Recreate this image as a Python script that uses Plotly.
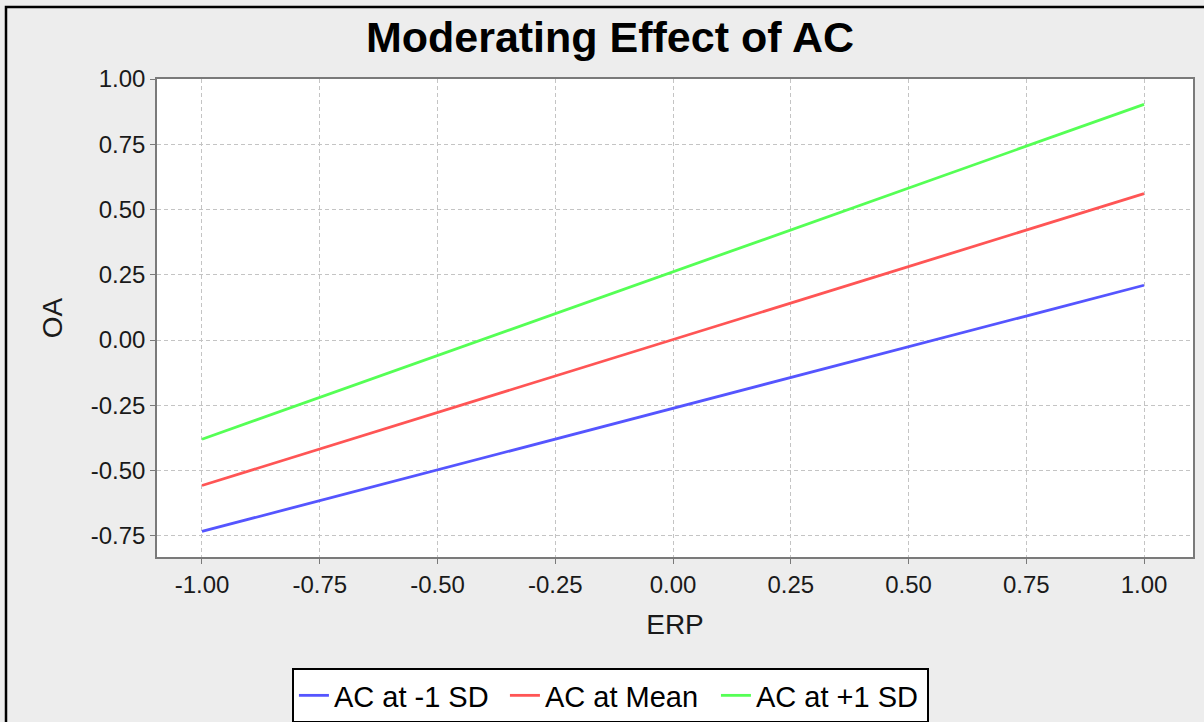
import plotly.graph_objects as go

erp = [-1.0, 1.0]
series_names = ["AC at -1 SD", "AC at Mean", "AC at +1 SD"]
oa_low = [-0.733, 0.210]
oa_mean = [-0.557, 0.561]
oa_high = [-0.380, 0.903]
colors = ["#5555FF", "#FF5555", "#55FF55"]
tick_vals = [-1.0, -0.75, -0.5, -0.25, 0.0, 0.25, 0.5, 0.75, 1.0]
tick_text = ["-1.00", "-0.75", "-0.50", "-0.25", "0.00", "0.25", "0.50", "0.75", "1.00"]

fig = go.Figure()
for name, ys, c in zip(series_names, [oa_low, oa_mean, oa_high], colors):
    fig.add_trace(go.Scatter(x=erp, y=ys, mode="lines", name=name,
                             line=dict(color=c, width=2.8)))

font_family = "Liberation Sans, Arial, sans-serif"
axis_common = dict(
    showline=True, linecolor="#7a7a7a", linewidth=1.5, mirror=True,
    showgrid=True, gridcolor="#c4c4c4", griddash="4px,3px", gridwidth=1,
    zeroline=False, ticks="outside", ticklen=5, tickcolor="#7a7a7a",
    tickfont=dict(family=font_family, size=24, color="#1a1a1a"),
    tickvals=tick_vals, ticktext=tick_text,
)

fig.update_layout(
    width=1204, height=722,
    paper_bgcolor="#ededed", plot_bgcolor="white",
    margin=dict(l=157, r=11, t=79, b=165),
    title=dict(text="<b>Moderating Effect of AC</b>", x=0.5066, xref="container",
               y=0.949, yref="container", xanchor="center", yanchor="middle",
               font=dict(family=font_family, size=43, color="black")),
    xaxis=dict(range=[-1.0955, 1.104], automargin=False,
               title=dict(text="ERP", font=dict(family=font_family, size=28, color="#1a1a1a"), standoff=18),
               **axis_common),
    yaxis=dict(range=[-0.831, 1.0], automargin=False,
               title=dict(text="OA", font=dict(family=font_family, size=28, color="#1a1a1a"), standoff=20),
               **axis_common),
    legend=dict(orientation="h", xref="container", x=0.507, xanchor="center",
                yref="container", y=1 - 668 / 722, yanchor="top",
                bgcolor="white", bordercolor="black", borderwidth=2,
                font=dict(family=font_family, size=29, color="black"),
                entrywidth=166, entrywidthmode="pixels",
                itemwidth=30, tracegroupgap=0),
    showlegend=True,
    shapes=[dict(type="rect", xref="paper", yref="paper",
                 x0=-151/1036, x1=(1204 + 20 - 157)/1036,
                 y0=(557 - 740)/478, y1=(557 - 7)/478,
                 line=dict(color="black", width=2.5), layer="below")],
)

fig.write_html("out.html", config={"displayModeBar": False},
               post_script="document.body.style.margin='0';document.body.style.padding='0';")
